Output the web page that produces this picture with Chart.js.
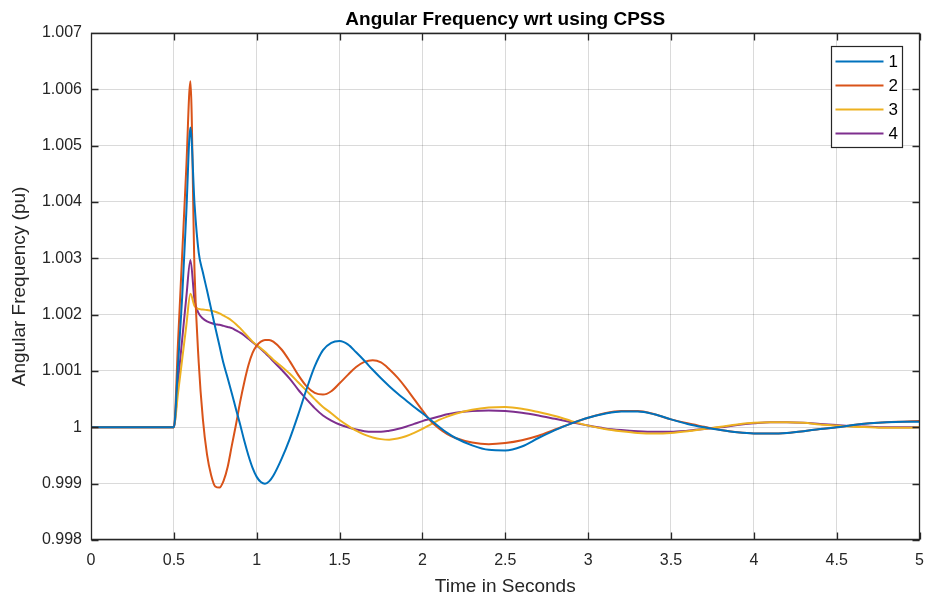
<!DOCTYPE html>
<html><head><meta charset="utf-8">
<script src="https://cdn.jsdelivr.net/npm/chart.js@4"></script>
<style>html,body{margin:0;padding:0;background:#fff;}</style>
</head><body>
<canvas id="c" width="935" height="599" style="display:block;width:935px;height:599px"></canvas>
<script>
// ---- data ----
const time = [0, 0.5,
  0.525, 0.55, 0.575, 0.6, 0.625, 0.65, 0.675, 0.7, 0.725, 0.75, 0.775, 0.8,
  0.825, 0.85, 0.875, 0.9, 0.925, 0.95, 0.975, 1.0, 1.025, 1.05, 1.075, 1.1,
  1.15, 1.2, 1.25, 1.3, 1.35, 1.4, 1.45, 1.5, 1.55, 1.6, 1.65, 1.7, 1.75, 1.8,
  1.85, 1.9, 1.95, 2.0, 2.05, 2.1, 2.15, 2.2,
  2.3, 2.4, 2.5, 2.6, 2.7, 2.8, 2.9, 3.0, 3.1, 3.2, 3.3, 3.4, 3.5, 3.6, 3.7,
  3.8, 3.9, 4.0, 4.1, 4.2, 4.3, 4.4, 4.5, 4.6, 4.7, 4.8, 4.9, 5.0];

const series1 = [1, 1,
  1.0011, 1.0023, 1.0038, 1.00532, 1.00395, 1.0031, 1.00275, 1.00243, 1.0021, 1.00177, 1.00145, 1.00113,
  1.00087, 1.0006, 1.00032, 1.00005, 0.99976, 0.9995, 0.99928, 0.99912, 0.99903, 0.999, 0.99904, 0.99914,
  0.99944, 0.9998, 1.00022, 1.00067, 1.00108, 1.00137, 1.0015, 1.00153, 1.00147, 1.00133, 1.00118, 1.00102, 1.00087, 1.00073,
  1.0006, 1.00048, 1.00036, 1.00025, 1.00013, 1.00001, 0.9999, 0.99981,
  0.99968, 0.9996, 0.99959, 0.99966, 0.99981, 0.99995, 1.00007, 1.00017, 1.00024, 1.00028, 1.00028, 1.00023, 1.00014, 1.00006, 1.0,
  0.99995, 0.99991, 0.99989, 0.99989, 0.9999, 0.99993, 0.99997, 1.0, 1.00004, 1.00007, 1.00009, 1.0001, 1.0001];

const series2 = [1, 1,
  1.0015, 1.00305, 1.0046, 1.00614, 1.00275, 1.00115, 1.00015, 0.99952, 0.99915, 0.99895, 0.99893, 0.99905,
  0.9993, 0.99968, 1.00005, 1.00045, 1.0008, 1.0011, 1.00132, 1.00145, 1.00152, 1.00155, 1.00155, 1.00152,
  1.00138, 1.00117, 1.00093, 1.00073, 1.00061, 1.00058, 1.00064, 1.00078, 1.00093, 1.00107, 1.00116, 1.00119, 1.00115, 1.00103,
  1.00088, 1.0007, 1.0005, 1.0003, 1.00011, 0.99998, 0.99988, 0.99981,
  0.99973, 0.9997, 0.99972, 0.99977, 0.99985, 0.99996, 1.00007, 1.00017, 1.00025, 1.00029, 1.00029, 1.00023, 1.00014, 1.00007, 1.00001,
  0.99995, 0.99991, 0.99989, 0.99989, 0.9999, 0.99993, 0.99997, 1.0, 1.00004, 1.00007, 1.00009, 1.0001, 1.00011];

const series3 = [1, 1,
  1.0006, 1.0012, 1.0018, 1.00237, 1.00215, 1.0021, 1.00209, 1.00208, 1.00207, 1.00205, 1.00202, 1.00198,
  1.00194, 1.00189, 1.00183, 1.00176, 1.00168, 1.0016, 1.00152, 1.00146, 1.0014, 1.00134, 1.00127, 1.0012,
  1.00108, 1.00095, 1.0008, 1.00065, 1.0005, 1.00036, 1.00025, 1.00013, 1.00003, 0.99994, 0.99987, 0.99982, 0.99979, 0.99978,
  0.9998, 0.99984, 0.9999, 0.99997, 1.00005, 1.00013, 1.00019, 1.00024,
  1.00031, 1.00035, 1.00036, 1.00033, 1.00027, 1.0002, 1.00011, 1.00003, 0.99997, 0.99993, 0.9999, 0.99989, 0.9999, 0.99993, 0.99997,
  1.00001, 1.00005, 1.00008, 1.00009, 1.00009, 1.00008, 1.00005, 1.00003, 1.00001, 1.0, 0.99999, 0.99999, 1.0];

const series4 = [1, 1,
  1.0008, 1.00155, 1.0023, 1.00297, 1.00225, 1.00202, 1.00193, 1.00188, 1.00185, 1.00183, 1.00182, 1.0018,
  1.00178, 1.00176, 1.00172, 1.00168, 1.00163, 1.00157, 1.00151, 1.00145, 1.00139, 1.00132, 1.00125, 1.00117,
  1.00102, 1.00086, 1.00067, 1.0005, 1.00034, 1.00021, 1.00012, 1.00005, 1.0, 0.99996, 0.99993, 0.99992, 0.99992, 0.99994,
  0.99997, 1.00001, 1.00006, 1.00011, 1.00015, 1.00019, 1.00023, 1.00026,
  1.00029, 1.0003, 1.00029, 1.00026, 1.00021, 1.00015, 1.00009, 1.00003, 0.99998, 0.99995, 0.99993, 0.99992, 0.99992, 0.99994, 0.99997,
  1.0, 1.00004, 1.00007, 1.00009, 1.00009, 1.00008, 1.00006, 1.00004, 1.00002, 1.00001, 1.0, 1.0, 1.0];

const seriesLabels = ['1', '2', '3', '4'];
const seriesColors = ['#0072BD', '#D95319', '#EDB120', '#7E2F8E'];
const xTicks = [0, 0.5, 1, 1.5, 2, 2.5, 3, 3.5, 4, 4.5, 5];
const yTicks = [0.998, 0.999, 1, 1.001, 1.002, 1.003, 1.004, 1.005, 1.006, 1.007];
const titleText = 'Angular Frequency wrt using CPSS';
const xTitleText = 'Time in Seconds';
const yTitleText = 'Angular Frequency (pu)';

// ---- chart ----
const FONT = "'Liberation Sans', Arial, Helvetica, sans-serif";
const AXC = '#262626';
const allSeries = [series1, series2, series3, series4];

const datasets = allSeries.map((s, k) => ({
  label: seriesLabels[k],
  data: time.map((t, i) => ({ x: t, y: s[i] })),
  borderColor: seriesColors[k],
  backgroundColor: seriesColors[k],
  borderWidth: 2,
  pointRadius: 0,
  cubicInterpolationMode: 'monotone',
  fill: false
}));

const framePlugin = {
  id: 'frame',
  afterDatasetsDraw(chart) {
    const { ctx, chartArea: a, scales } = chart;
    const L = Math.round(a.left) + 0.5, R = Math.round(a.right) - 0.5;
    const T = Math.round(a.top) + 0.5, B = Math.round(a.bottom) - 0.5;
    ctx.save();
    ctx.strokeStyle = AXC;
    ctx.lineWidth = 1.3;
    ctx.beginPath();
    ctx.rect(L, T, R - L, B - T);
    const tl = 7;
    xTicks.forEach(v => {
      const px = Math.round(scales.x.getPixelForValue(v)) + 0.5;
      ctx.moveTo(px, B); ctx.lineTo(px, B - tl);
      ctx.moveTo(px, T); ctx.lineTo(px, T + tl);
    });
    yTicks.forEach(v => {
      const py = Math.round(scales.y.getPixelForValue(v)) + 0.5;
      ctx.moveTo(L, py); ctx.lineTo(L + tl, py);
      ctx.moveTo(R, py); ctx.lineTo(R - tl, py);
    });
    ctx.stroke();

    // legend box (inside the axes, top-right)
    const bw = 71, bh = 101;
    const bx = Math.round(a.right - 18 - bw) + 0.5;
    const by = Math.round(a.top + 13) + 0.5;
    ctx.fillStyle = '#fff';
    ctx.fillRect(bx, by, bw, bh);
    ctx.lineWidth = 1.2;
    ctx.strokeRect(bx, by, bw, bh);
    ctx.font = '17px ' + FONT;
    ctx.textBaseline = 'middle';
    ctx.textAlign = 'left';
    chart.data.datasets.forEach((ds, i) => {
      const y = by + 15 + i * 24;
      ctx.beginPath();
      ctx.strokeStyle = ds.borderColor;
      ctx.lineWidth = 2;
      ctx.moveTo(bx + 4, y); ctx.lineTo(bx + 52, y);
      ctx.stroke();
      ctx.fillStyle = '#000';
      ctx.fillText(ds.label, bx + 57, y + 1);
    });
    ctx.restore();
  }
};

new Chart(document.getElementById('c'), {
  type: 'line',
  data: { datasets },
  options: {
    responsive: false,
    devicePixelRatio: 1,
    animation: false,
    layout: { padding: { left: 0, right: 7, top: 0, bottom: 0 } },
    plugins: {
      legend: { display: false },
      tooltip: { enabled: false },
      title: {
        display: true,
        text: titleText,
        fullSize: false,
        color: '#000',
        font: { family: FONT, size: 19, weight: 'bold' },
        padding: { top: 8, bottom: 2 }
      }
    },
    scales: {
      x: {
        type: 'linear',
        min: 0, max: 5,
        afterBuildTicks: s => { s.ticks = xTicks.map(v => ({ value: v })); },
        afterFit: s => { s.height = 59; },
        ticks: { color: AXC, font: { family: FONT, size: 16 }, padding: 11, maxRotation: 0, autoSkip: false,
                 callback: v => String(v) },
        grid: { color: 'rgba(38,38,38,0.17)', lineWidth: 1, drawTicks: false },
        border: { display: false },
        title: { display: true, text: xTitleText, color: AXC, font: { family: FONT, size: 19 }, padding: { top: 0, bottom: 1 } }
      },
      y: {
        type: 'linear',
        min: 0.998, max: 1.007,
        afterBuildTicks: s => { s.ticks = yTicks.map(v => ({ value: v })); },
        afterFit: s => { s.width = 91; },
        ticks: { color: AXC, font: { family: FONT, size: 16 }, padding: 9, autoSkip: false,
                 callback: v => String(parseFloat(Number(v).toFixed(3))) },
        grid: { color: 'rgba(38,38,38,0.17)', lineWidth: 1, drawTicks: false },
        border: { display: false },
        title: { display: true, text: yTitleText, color: AXC, font: { family: FONT, size: 19 }, padding: { top: 8, bottom: 0 } }
      }
    }
  },
  plugins: [framePlugin]
});
</script>
</body></html>
